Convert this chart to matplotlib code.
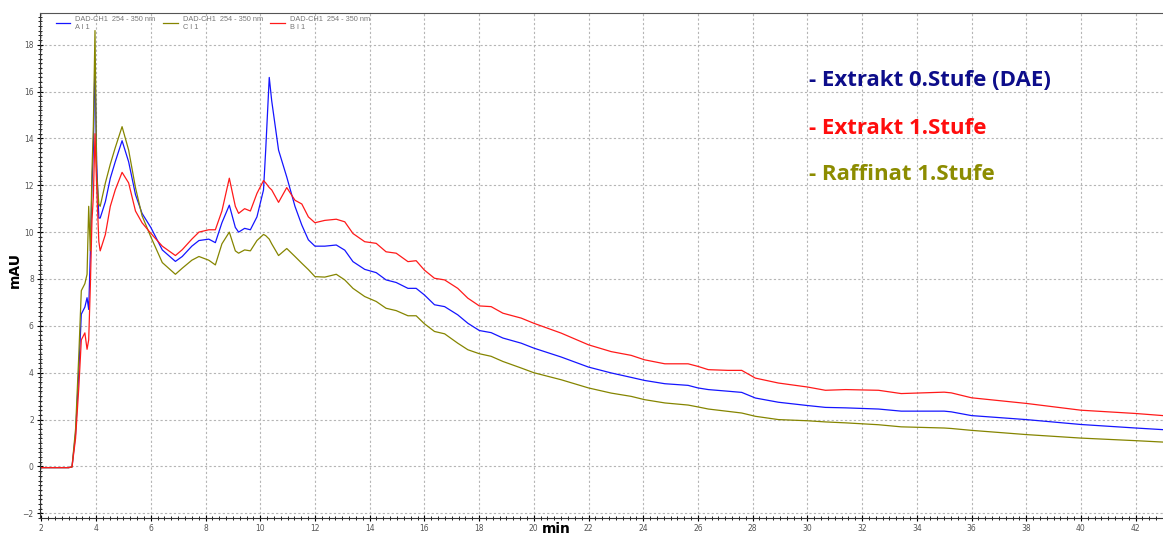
import matplotlib
matplotlib.use("Agg")
import matplotlib.pyplot as plt
from matplotlib.ticker import MultipleLocator

# retention time (min)
time = [2.0, 3.0, 3.12, 3.25, 3.37, 3.46, 3.59, 3.67, 3.73, 3.79, 3.85, 3.90, 3.96,
        4.02, 4.10, 4.15, 4.34, 4.52, 4.70, 4.95, 5.19, 5.44, 5.68, 6.0, 6.42, 6.9,
        7.15, 7.5, 7.76, 8.12, 8.36, 8.6, 8.87, 9.09, 9.21, 9.43, 9.64, 9.88, 10.12,
        10.2, 10.33, 10.42, 10.67, 10.97, 11.27, 11.52, 11.76, 12.0, 12.36, 12.78,
        13.09, 13.39, 13.82, 14.24, 14.6, 14.97, 15.4, 15.7, 16.0, 16.37, 16.74,
        17.22, 17.59, 18.01, 18.44, 18.87, 19.54, 20.0, 21.0, 22.0, 22.83, 23.56,
        24.05, 24.79, 25.64, 26.0, 26.38, 27.1, 27.6, 28.1, 28.94, 30.0, 30.66,
        31.4, 32.6, 33.43, 35.0, 35.26, 36.0, 38.0, 40.0, 42.0, 43.0]

# A I 1 - Extrakt 0.Stufe (DAE)
signal_a = [-0.05, -0.05, -0.02, 1.4, 4.1, 6.5, 6.8, 7.2, 6.7, 9.1, 12.0, 13.5, 17.3,
            13.0, 10.6, 10.6, 11.3, 12.3, 13.0, 13.9, 13.0, 11.6, 10.8, 10.2, 9.24, 8.75,
            8.96, 9.4, 9.64, 9.7, 9.55, 10.4, 11.15, 10.2, 10.0, 10.16, 10.1, 10.65, 11.8,
            13.5, 16.6, 15.6, 13.5, 12.35, 11.1, 10.3, 9.67, 9.4, 9.4, 9.45,
            9.23, 8.74, 8.41, 8.27, 7.96, 7.85, 7.6, 7.6, 7.32, 6.9, 6.82,
            6.47, 6.11, 5.8, 5.71, 5.48, 5.26, 5.05, 4.67, 4.24, 3.99, 3.8,
            3.67, 3.53, 3.46, 3.35, 3.28, 3.21, 3.16, 2.92, 2.74, 2.6, 2.52,
            2.5, 2.45, 2.36, 2.36, 2.33, 2.17, 2.0, 1.79, 1.64, 1.57]

# C I 1 - Raffinat 1.Stufe
signal_c = [-0.05, -0.05, -0.02, 1.6, 4.8, 7.5, 7.8, 8.2, 11.1, 9.2, 12.6, 14.5, 18.6,
            12.5, 11.2, 11.1, 12.1, 12.9, 13.6, 14.5, 13.5, 11.9, 10.7, 9.8, 8.7, 8.2,
            8.46, 8.8, 8.96, 8.8, 8.6, 9.5, 10.0, 9.2, 9.1, 9.24, 9.2, 9.64, 9.9,
            9.85, 9.7, 9.5, 9.0, 9.3, 8.96, 8.67, 8.4, 8.1, 8.08, 8.2,
            7.96, 7.6, 7.25, 7.04, 6.75, 6.65, 6.43, 6.43, 6.09, 5.76, 5.66,
            5.26, 4.98, 4.81, 4.7, 4.48, 4.2, 4.0, 3.7, 3.35, 3.13, 2.99,
            2.85, 2.71, 2.62, 2.54, 2.45, 2.35, 2.28, 2.14, 2.0, 1.95, 1.9,
            1.86, 1.78, 1.69, 1.64, 1.62, 1.54, 1.36, 1.21, 1.1, 1.04]

# B I 1 - Extrakt 1.Stufe
signal_b = [-0.05, -0.05, -0.02, 1.2, 3.4, 5.4, 5.7, 5.0, 5.4, 7.7, 10.5, 11.5, 14.2,
            12.0, 9.6, 9.2, 9.9, 11.1, 11.8, 12.55, 12.1, 10.9, 10.4, 9.95, 9.4, 9.0,
            9.25, 9.7, 10.0, 10.1, 10.1, 10.9, 12.3, 11.1, 10.8, 11.0, 10.9, 11.65, 12.2,
            12.1, 11.9, 11.8, 11.27, 11.9, 11.36, 11.2, 10.65, 10.4, 10.5, 10.55,
            10.44, 9.94, 9.59, 9.52, 9.16, 9.1, 8.74, 8.78, 8.38, 8.03, 7.96,
            7.6, 7.18, 6.85, 6.82, 6.54, 6.33, 6.11, 5.69, 5.19, 4.9, 4.74,
            4.55, 4.38, 4.38, 4.27, 4.13, 4.1, 4.1, 3.77, 3.56, 3.39, 3.25,
            3.28, 3.25, 3.11, 3.17, 3.14, 2.93, 2.69, 2.4, 2.26, 2.17]

trace_labels = ["DAD-CH1  254 - 350 nm\nA I 1",
                "DAD-CH1  254 - 350 nm\nC I 1",
                "DAD-CH1  254 - 350 nm\nB I 1"]
sample_names = ["- Extrakt 0.Stufe (DAE)", "- Extrakt 1.Stufe", "- Raffinat 1.Stufe"]

fig = plt.figure(figsize=(11.63, 5.35), dpi=100)
ax = fig.add_axes([40 / 1163, 17 / 535, 1 - 40 / 1163, 1 - 30 / 535])

ax.plot(time, signal_a, color="#1515ff", lw=0.9, label=trace_labels[0])
ax.plot(time, signal_c, color="#858500", lw=0.9, label=trace_labels[1])
ax.plot(time, signal_b, color="#ff1a1a", lw=0.9, label=trace_labels[2])

ax.set_xlim(1.95, 43.0)
ax.set_ylim(-2.2, 19.35)
ax.xaxis.set_major_locator(MultipleLocator(2))
ax.xaxis.set_minor_locator(MultipleLocator(0.25))
ax.yaxis.set_major_locator(MultipleLocator(2))
ax.yaxis.set_minor_locator(MultipleLocator(0.2))
ax.tick_params(which="major", direction="inout", length=5, width=0.8,
               labelsize=5.5, labelcolor="#555555", pad=2)
ax.tick_params(which="minor", direction="inout", length=3, width=0.6)

ax.grid(True, which="major", color="#b5b5b5", linestyle=(0, (2, 2)), linewidth=0.8)
ax.set_axisbelow(True)

ax.spines["right"].set_visible(False)
ax.spines["top"].set_color("#555555")
ax.spines["left"].set_color("#333333")
ax.spines["bottom"].set_color("#333333")

ax.legend(loc="upper left", bbox_to_anchor=(0.008, 1.008), ncol=3, frameon=False,
          prop={"family": "Liberation Sans", "size": 5.3},
          handlelength=2.0, handletextpad=0.7, columnspacing=1.0,
          labelcolor="#777777")

fig.text(556 / 1163, 1 - 529 / 535, "min", ha="center", va="center",
         fontsize=10, fontweight="bold")
fig.text(15 / 1163, 1 - 270 / 535, "mAU", ha="center", va="center",
         rotation=90, fontsize=10, fontweight="bold")

name_colors = ["#0d0d8a", "#ff0d0d", "#8c8c00"]
name_y = [80, 129, 175]
for name, col, yy in zip(sample_names, name_colors, name_y):
    fig.text(809 / 1163, 1 - yy / 535, name, color=col, fontsize=16,
             fontweight="bold", family="Open Sans", ha="left", va="center")

fig.savefig("out.png", dpi=100)
